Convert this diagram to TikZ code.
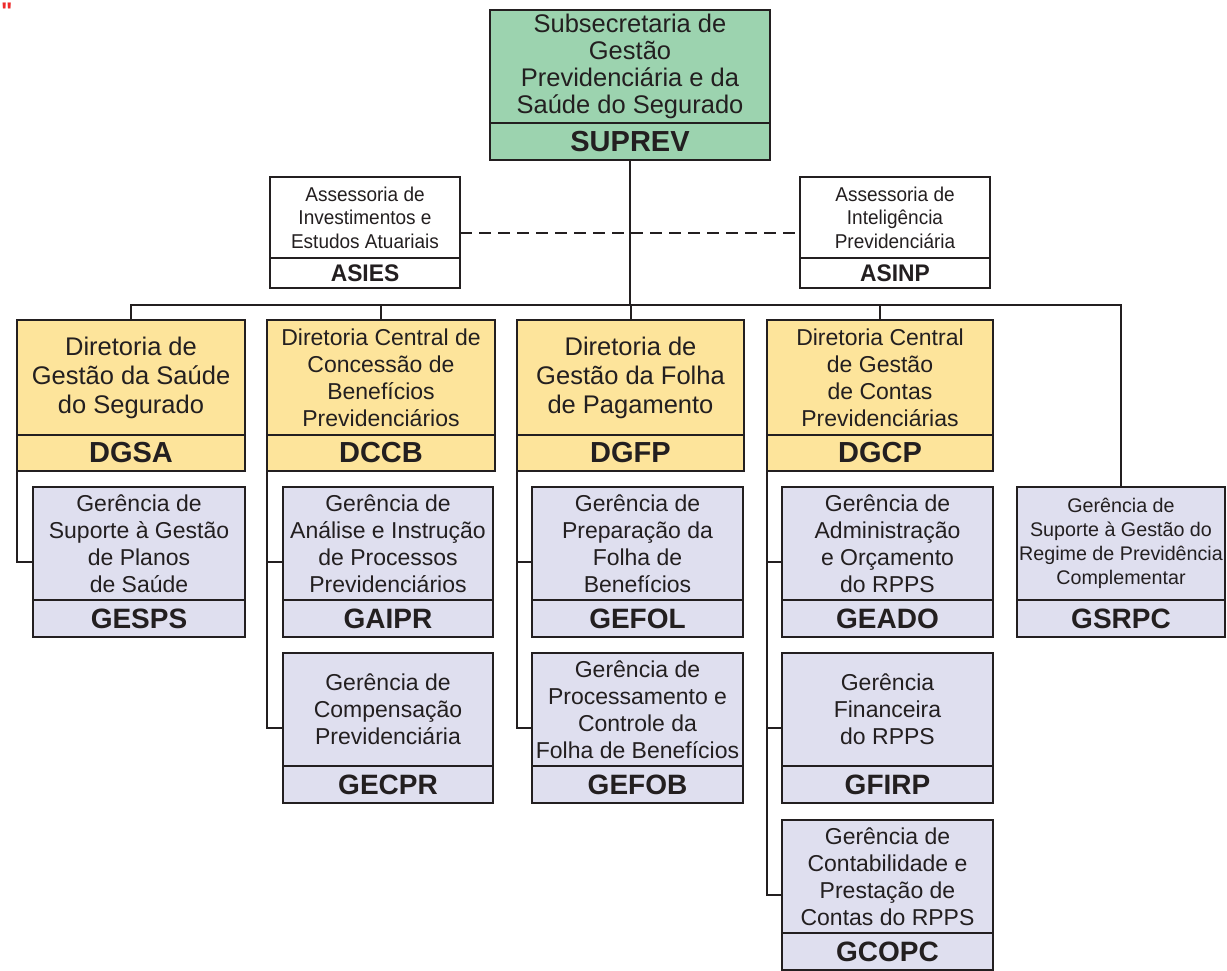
\documentclass[tikz,border=0pt]{standalone}
\usepackage{fontspec}
\setmainfont{Liberation Sans}
\newfontfamily\narrowf[FakeStretch=0.95]{Liberation Sans}
\newfontfamily\markf[Ligatures=TeXOff]{Liberation Sans}
\usetikzlibrary{calc}
\definecolor{linec}{HTML}{231F20}
\definecolor{supg}{HTML}{9CD3AF}
\definecolor{diry}{HTML}{FDE49B}
\definecolor{gerl}{HTML}{DFDFEF}
\definecolor{markred}{HTML}{EE2A2A}
\tikzset{
  boxbase/.style={draw=linec, line width=2pt, inner sep=0pt, outer sep=0pt, align=center, text=linec},
  sup-up/.style={fill=supg, minimum height=113pt, font=\fontsize{25.5}{27}\selectfont},
  sup-lo/.style={fill=supg, minimum height=37pt, font=\bfseries\fontsize{29}{30}\selectfont},
  ase-up/.style={fill=white, minimum height=81pt, font=\narrowf\fontsize{20}{23.5}\selectfont},
  ase-lo/.style={fill=white, minimum height=30pt, font=\narrowf\bfseries\fontsize{24}{25}\selectfont},
  dir-up/.style={fill=diry, minimum height=115pt, font=\fontsize{25.5}{29}\selectfont},
  dirc-up/.style={fill=diry, minimum height=115pt, font=\fontsize{23}{27}\selectfont},
  dir-lo/.style={fill=diry, minimum height=36pt, font=\bfseries\fontsize{29}{30}\selectfont},
  dirc-lo/.style={dir-lo},
  ger-up/.style={fill=gerl, minimum height=113pt, font=\fontsize{23}{27}\selectfont},
  ger-lo/.style={fill=gerl, minimum height=37pt, font=\bfseries\fontsize{28}{29}\selectfont},
  gsr-up/.style={fill=gerl, minimum height=113pt, font=\fontsize{19.7}{24}\selectfont},
  gsr-lo/.style={ger-lo},
  conn/.style={draw=linec, line width=2pt},
}
\newcommand{\obox}[7]{%
  \node[boxbase, #5-up, minimum width=#4pt, anchor=north west] (#1) at (#2,#3) {#6};
  \node[boxbase, #5-lo, minimum width=#4pt, anchor=north] (#1-c) at (#1.south) {#7};}
\begin{document}
\begin{tikzpicture}[x=1pt,y=-1pt]
\useasboundingbox (0,0) rectangle (1227,971);
\node[text=markred, font=\markf\bfseries\fontsize{24}{24}\selectfont, anchor=north west, inner sep=0pt] (mark) at (1,3) {"};
% boxes
\obox{suprev}{490}{10}{280}{sup}{Subsecretaria de\\Gestão\\Previdenciária e da\\Saúde do Segurado}{SUPREV}
\obox{asies}{270}{177}{190}{ase}{Assessoria de\\Investimentos e\\Estudos Atuariais}{ASIES}
\obox{asinp}{800}{177}{190}{ase}{Assessoria de\\Inteligência\\Previdenciária}{ASINP}
\obox{dgsa}{17}{320}{228}{dir}{Diretoria de\\Gestão da Saúde\\do Segurado}{DGSA}
\obox{dccb}{267}{320}{228}{dirc}{Diretoria Central de\\Concessão de\\Benefícios\\Previdenciários}{DCCB}
\obox{dgfp}{517}{320}{227}{dir}{Diretoria de\\Gestão da Folha\\de Pagamento}{DGFP}
\obox{dgcp}{767}{320}{226}{dirc}{Diretoria Central\\de Gestão\\de Contas\\Previdenciárias}{DGCP}
\obox{gesps}{33}{487}{212}{ger}{Gerência de\\Suporte à Gestão\\de Planos\\de Saúde}{GESPS}
\obox{gaipr}{283}{487}{210}{ger}{Gerência de\\Análise e Instrução\\de Processos\\Previdenciários}{GAIPR}
\obox{gecpr}{283}{653}{210}{ger}{Gerência de\\Compensação\\Previdenciária}{GECPR}
\obox{gefol}{532}{487}{211}{ger}{Gerência de\\Preparação da\\Folha de\\Benefícios}{GEFOL}
\obox{gefob}{532}{653}{211}{ger}{Gerência de\\Processamento e\\Controle da\\Folha de Benefícios}{GEFOB}
\obox{geado}{782}{487}{211}{ger}{Gerência de\\Administração\\e Orçamento\\do RPPS}{GEADO}
\obox{gfirp}{782}{653}{211}{ger}{Gerência\\Financeira\\do RPPS}{GFIRP}
\obox{gcopc}{782}{820}{211}{ger}{Gerência de\\Contabilidade e\\Prestação de\\Contas do RPPS}{GCOPC}
\obox{gsrpc}{1017}{487}{208}{gsr}{Gerência de\\Suporte à Gestão do\\Regime de Previdência\\Complementar}{GSRPC}
% connectors
\coordinate (busL) at (131,305);
\coordinate (busR) at (1121,305);
\draw[conn] (dgsa.north) -- (busL) -- (busR) -- (gsrpc.north);
\draw[conn] (suprev-c.south) -- (suprev-c.south |- busL);
\draw[conn] (dccb.north) -- (dccb.north |- busL);
\draw[conn] (dgfp.north) -- (dgfp.north |- busL);
\draw[conn] (dgcp.north) -- (dgcp.north |- busL);
\draw[conn, dash pattern=on 12pt off 7pt] ($(asies.north east)!0.5!(asies-c.south east)$) -- ($(asinp.north west)!0.5!(asinp-c.south west)$);
\foreach \g in {gesps,gaipr,gecpr,gefol,gefob,geado,gfirp,gcopc}
  \coordinate (\g-m) at ($(\g.north west)!0.5!(\g-c.south west)$);
\draw[conn] (dgsa-c.south west) |- (gesps-m);
\draw[conn] (dccb-c.south west) |- (gecpr-m);
\draw[conn] (gaipr-m -| dccb-c.south west) -- (gaipr-m);
\draw[conn] (dgfp-c.south west) |- (gefob-m);
\draw[conn] (gefol-m -| dgfp-c.south west) -- (gefol-m);
\draw[conn] (dgcp-c.south west) |- (gcopc-m);
\draw[conn] (geado-m -| dgcp-c.south west) -- (geado-m);
\draw[conn] (gfirp-m -| dgcp-c.south west) -- (gfirp-m);
\end{tikzpicture}
\end{document}
